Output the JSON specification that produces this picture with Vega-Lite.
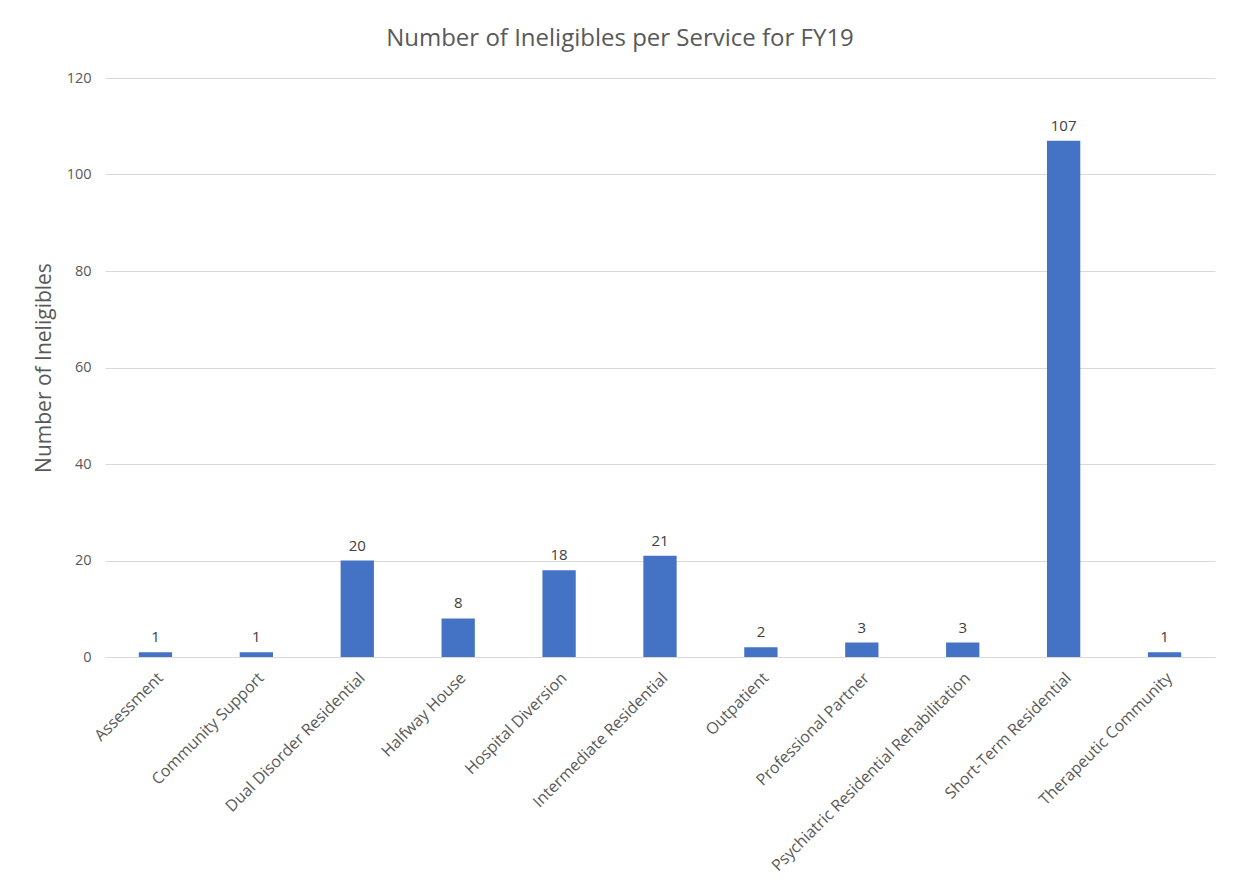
{
  "$schema": "https://vega.github.io/schema/vega-lite/v6.json",
  "autosize": {"type": "none"},
  "width": 1110,
  "height": 579,
  "padding": {"left": 105, "top": 78, "right": 18, "bottom": 238},
  "background": "white",
  "title": {
    "text": "Number of Ineligibles per Service for FY19",
    "font": "Open Sans",
    "fontSize": 24,
    "fontWeight": "normal",
    "color": "#595959",
    "anchor": "middle",
    "dx": -40,
    "offset": 19
  },
  "data": {
    "values": [
      {"service": "Assessment", "count": 1},
      {"service": "Community Support", "count": 1},
      {"service": "Dual Disorder Residential", "count": 20},
      {"service": "Halfway House", "count": 8},
      {"service": "Hospital Diversion", "count": 18},
      {"service": "Intermediate Residential", "count": 21},
      {"service": "Outpatient", "count": 2},
      {"service": "Professional Partner", "count": 3},
      {"service": "Psychiatric Residential Rehabilitation", "count": 3},
      {"service": "Short-Term Residential", "count": 107},
      {"service": "Therapeutic Community", "count": 1}
    ]
  },
  "encoding": {
    "x": {
      "field": "service",
      "type": "nominal",
      "sort": null,
      "scale": {"paddingInner": 0.67, "paddingOuter": 0.335},
      "axis": {
        "title": null,
        "labelAngle": -45,
        "labelAlign": "right",
        "labelBaseline": "middle",
        "labelFont": "Open Sans",
        "labelFontSize": 16,
        "labelColor": "#595959",
        "labelPadding": 18,
        "labelLimit": 400,
        "labelOffset": 5,
        "ticks": false,
        "domainColor": "#d9d9d9",
        "domainWidth": 1.2
      }
    },
    "y": {
      "field": "count",
      "type": "quantitative",
      "scale": {"domain": [0, 120]},
      "axis": {
        "title": "Number of Ineligibles",
        "titleFont": "Open Sans",
        "titleFontSize": 21,
        "titleFontWeight": "normal",
        "titleColor": "#595959",
        "titlePadding": 12,
        "values": [0, 20, 40, 60, 80, 100, 120],
        "labelFont": "Open Sans",
        "labelFontSize": 14.5,
        "labelColor": "#595959",
        "labelPadding": 14,
        "ticks": false,
        "domain": false,
        "gridColor": "#d9d9d9",
        "gridWidth": 1
      }
    }
  },
  "layer": [
    {"mark": {"type": "bar", "color": "#4472C4"}},
    {
      "mark": {
        "type": "text",
        "baseline": "bottom",
        "dy": -7,
        "font": "Open Sans",
        "fontSize": 15,
        "color": "#404040"
      },
      "encoding": {"text": {"field": "count", "type": "quantitative"}}
    }
  ],
  "config": {"view": {"stroke": null}}
}
